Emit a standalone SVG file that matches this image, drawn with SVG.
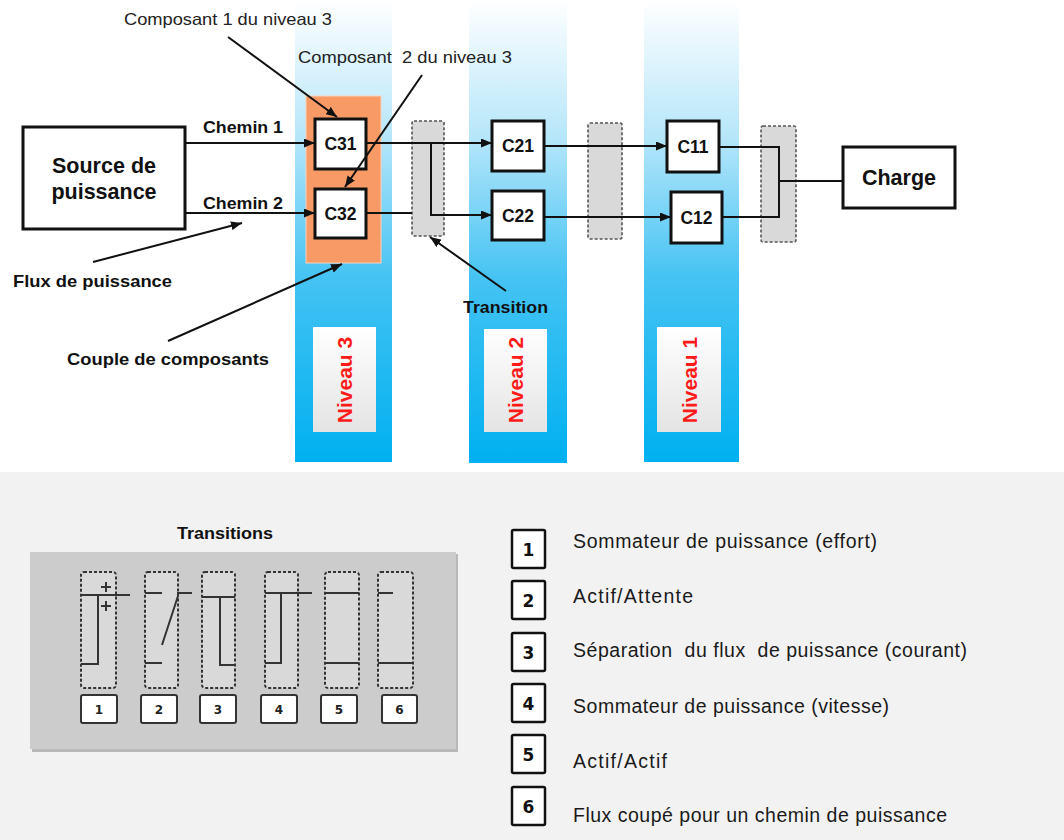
<svg xmlns="http://www.w3.org/2000/svg" width="1064" height="840" viewBox="0 0 1064 840">
<style>
  .box { fill: #ffffff; stroke: #111; stroke-width: 3; }
  .lbl { font-family: "Liberation Sans", Arial, sans-serif; font-weight: bold; fill: #111; }
  .note { font-family: "Liberation Sans", Arial, sans-serif; fill: #222; }
  .conn { fill: none; stroke: #111; stroke-width: 2; }
  .trans { fill: #d9d9d9; stroke: #555; stroke-width: 1.6; stroke-dasharray: 3 2; }
  .niv { font-family: "Liberation Sans", Arial, sans-serif; font-weight: bold; fill: #ff1a1a; font-size: 21px; }
  .icon { fill: #d9d9d9; stroke: #333; stroke-width: 2; stroke-dasharray: 3 2; }
  .iline { fill: none; stroke: #333; stroke-width: 2; }
  .num { fill: #fff; stroke: #333; stroke-width: 2; }
  .numt { font-family: "DejaVu Sans", Verdana, sans-serif; font-weight: bold; font-size: 12px; fill: #222; }
  .lbox { fill: #fff; stroke: #111; stroke-width: 2.5; }
  .lnum { font-family: "DejaVu Sans", Verdana, sans-serif; font-weight: bold; font-size: 17px; fill: #111; }
  .ltext { font-family: "Liberation Sans", Arial, sans-serif; font-size: 19.5px; fill: #1a1a1a; white-space: pre; }
  .pre { white-space: pre; }
</style>
<defs>
  <linearGradient id="band" x1="0" y1="0" x2="0" y2="1">
    <stop offset="0" stop-color="#ffffff"/>
    <stop offset="0.3" stop-color="#b5e6fa"/>
    <stop offset="0.6" stop-color="#45c3f3"/>
    <stop offset="1" stop-color="#00b0f0"/>
  </linearGradient>
  <linearGradient id="lab" x1="0" y1="0" x2="0" y2="1">
    <stop offset="0" stop-color="#ffffff"/>
    <stop offset="1" stop-color="#e4e4e4"/>
  </linearGradient>
  <marker id="ah" markerUnits="userSpaceOnUse" markerWidth="11" markerHeight="9" refX="11" refY="4.5" orient="auto">
    <path d="M0,0 L11,4.5 L0,9 z" fill="#111"/>
  </marker>
</defs>

<rect x="0" y="0" width="1064" height="840" fill="#ffffff"/>

<!-- bottom area -->
<rect x="0" y="472" width="1064" height="368" fill="#f2f2f2"/>

<!-- level bands -->
<g id="niveau3">
  <rect x="295" y="0" width="97" height="462" fill="url(#band)"/>
  <rect x="313" y="327" width="63" height="105" fill="url(#lab)"/>
  <text class="niv" transform="translate(352,380) rotate(-90)" text-anchor="middle">Niveau 3</text>
</g>
<g id="niveau2">
  <rect x="469" y="0" width="98" height="463" fill="url(#band)"/>
  <rect x="484" y="329" width="63" height="103" fill="url(#lab)"/>
  <text class="niv" transform="translate(523,380) rotate(-90)" text-anchor="middle">Niveau 2</text>
</g>
<g id="niveau1">
  <rect x="644" y="0" width="95" height="462" fill="url(#band)"/>
  <rect x="657" y="327" width="64" height="105" fill="url(#lab)"/>
  <text class="niv" transform="translate(697,380) rotate(-90)" text-anchor="middle">Niveau 1</text>
</g>

<!-- couple de composants -->
<g id="couple">
  <rect x="306" y="96" width="75" height="167" fill="#f89a66" stroke="#fbd2bb" stroke-width="1"/>
</g>

<!-- transitions (top) -->
<g id="transition1"><rect class="trans" x="412" y="121" width="32" height="115" rx="2"/></g>
<g id="transition2"><rect class="trans" x="588" y="123" width="34" height="116" rx="2"/></g>
<g id="transition3"><rect class="trans" x="761" y="126" width="35" height="116" rx="2"/></g>

<!-- nodes -->
<g id="source">
  <rect class="box" x="23" y="127" width="162" height="102"/>
  <text class="lbl" x="104" y="173" font-size="21.5" text-anchor="middle">Source de</text>
  <text class="lbl" x="104" y="199" font-size="21.5" text-anchor="middle">puissance</text>
</g>
<g id="C31">
  <rect class="box" x="315" y="119" width="51" height="50"/>
  <text class="lbl" x="340.5" y="150" font-size="17.5" text-anchor="middle">C31</text>
</g>
<g id="C32">
  <rect class="box" x="315" y="189" width="51" height="49"/>
  <text class="lbl" x="340.5" y="220" font-size="17.5" text-anchor="middle">C32</text>
</g>
<g id="C21">
  <rect class="box" x="492" y="121" width="52" height="50"/>
  <text class="lbl" x="518" y="152" font-size="17.5" text-anchor="middle">C21</text>
</g>
<g id="C22">
  <rect class="box" x="492" y="191" width="52" height="49"/>
  <text class="lbl" x="518" y="222" font-size="17.5" text-anchor="middle">C22</text>
</g>
<g id="C11">
  <rect class="box" x="667" y="121" width="52" height="51"/>
  <text class="lbl" x="693" y="153" font-size="17.5" text-anchor="middle">C11</text>
</g>
<g id="C12">
  <rect class="box" x="671" y="192" width="51" height="51"/>
  <text class="lbl" x="696.5" y="224" font-size="17.5" text-anchor="middle">C12</text>
</g>
<g id="charge">
  <rect class="box" x="843" y="147" width="112" height="61"/>
  <text class="lbl" x="899" y="185" font-size="21.5" text-anchor="middle">Charge</text>
</g>

<!-- connectors -->
<g id="connectors">
  <path class="conn" d="M185,143 H315" marker-end="url(#ah)"/>
  <path class="conn" d="M185,213 H315" marker-end="url(#ah)"/>
  <path class="conn" d="M366,143 H492" marker-end="url(#ah)"/>
  <path class="conn" d="M366,213 H412"/>
  <path class="conn" d="M431,143 V215 H492" marker-end="url(#ah)"/>
  <path class="conn" d="M544,146 H667" marker-end="url(#ah)"/>
  <path class="conn" d="M544,217 H671" marker-end="url(#ah)"/>
  <path class="conn" d="M719,147 H779 V217 H722"/>
  <path class="conn" d="M779,181 H843"/>
  <!-- annotation arrows -->
  <path class="conn" d="M228,37 L337,117" marker-end="url(#ah)"/>
  <path class="conn" d="M422,75 L345,187" marker-end="url(#ah)"/>
  <path class="conn" d="M93,262 L242,223" marker-end="url(#ah)"/>
  <path class="conn" d="M168,341 L342,264" marker-end="url(#ah)"/>
  <path class="conn" d="M506,291 L430,237" marker-end="url(#ah)"/>
</g>

<!-- labels -->
<g id="labels">
  <text class="lbl" x="203" y="133" font-size="16" textLength="80" lengthAdjust="spacingAndGlyphs">Chemin 1</text>
  <text class="lbl" x="203" y="209" font-size="16" textLength="80" lengthAdjust="spacingAndGlyphs">Chemin 2</text>
  <text class="note" x="124" y="25" font-size="16.5" textLength="208" lengthAdjust="spacingAndGlyphs">Composant 1 du niveau 3</text>
  <text class="note pre" x="298" y="63" font-size="16.5" textLength="214" lengthAdjust="spacingAndGlyphs">Composant  2 du niveau 3</text>
  <text class="lbl" x="13" y="287" font-size="16.5" textLength="159" lengthAdjust="spacingAndGlyphs">Flux de puissance</text>
  <text class="lbl" x="67" y="365" font-size="16.5" textLength="202" lengthAdjust="spacingAndGlyphs">Couple de composants</text>
  <text class="lbl" x="463" y="313" font-size="16.5" textLength="85" lengthAdjust="spacingAndGlyphs">Transition</text>
</g>

<!-- transitions legend box -->
<g id="transitions-box">
  <text class="lbl" x="177" y="539" font-size="17" textLength="96" lengthAdjust="spacingAndGlyphs">Transitions</text>
  <rect x="32" y="554" width="426" height="198" fill="#b8b8b8"/>
  <rect x="30" y="552" width="426" height="197" fill="#cccccc"/>
</g>
<g id="icon1">
  <rect class="icon" x="81" y="572" width="35" height="116" rx="3"/>
  <path class="iline" d="M81,595 H130 M98,595 V664 H81"/>
  <path class="iline" d="M101,587 H111 M106,582 V592 M101,606 H111 M106,601 V611" stroke-width="1.6"/>
  <rect class="num" x="81" y="695" width="36" height="28" rx="2"/>
  <text class="numt" x="99" y="714" text-anchor="middle">1</text>
</g>
<g id="icon2">
  <rect class="icon" x="145" y="572" width="33" height="116" rx="3"/>
  <path class="iline" d="M145,593 H162 M177,593 H192 M178,596 L162,645 M145,663 H162"/>
  <rect class="num" x="141" y="695" width="36" height="28" rx="2"/>
  <text class="numt" x="159" y="714" text-anchor="middle">2</text>
</g>
<g id="icon3">
  <rect class="icon" x="202" y="572" width="33" height="116" rx="3"/>
  <path class="iline" d="M202,597 H235 M220,597 V665 H234"/>
  <rect class="num" x="200" y="695" width="36" height="28" rx="2"/>
  <text class="numt" x="218" y="714" text-anchor="middle">3</text>
</g>
<g id="icon4">
  <rect class="icon" x="265" y="572" width="33" height="116" rx="3"/>
  <path class="iline" d="M265,593 H312 M281,593 V663 H265"/>
  <rect class="num" x="261" y="695" width="36" height="28" rx="2"/>
  <text class="numt" x="279" y="714" text-anchor="middle">4</text>
</g>
<g id="icon5">
  <rect class="icon" x="325" y="572" width="34" height="116" rx="3"/>
  <path class="iline" d="M325,593 H359 M325,663 H359"/>
  <rect class="num" x="321" y="695" width="36" height="28" rx="2"/>
  <text class="numt" x="339" y="714" text-anchor="middle">5</text>
</g>
<g id="icon6">
  <rect class="icon" x="378" y="572" width="35" height="116" rx="3"/>
  <path class="iline" d="M378,593 H393 M378,663 H413"/>
  <rect class="num" x="382" y="695" width="35" height="28" rx="2"/>
  <text class="numt" x="399.5" y="714" text-anchor="middle">6</text>
</g>

<!-- right legend -->
<g id="legend1">
  <rect class="lbox" x="512" y="530" width="33" height="38" rx="1.5"/>
  <text class="lnum" x="528.5" y="556" text-anchor="middle">1</text>
  <text class="ltext" x="573" y="548" textLength="304" lengthAdjust="spacing">Sommateur de puissance (effort)</text>
</g>
<g id="legend2">
  <rect class="lbox" x="512" y="581" width="33" height="38" rx="1.5"/>
  <text class="lnum" x="528.5" y="607" text-anchor="middle">2</text>
  <text class="ltext" x="573" y="603" textLength="120" lengthAdjust="spacing">Actif/Attente</text>
</g>
<g id="legend3">
  <rect class="lbox" x="512" y="633" width="33" height="38" rx="1.5"/>
  <text class="lnum" x="528.5" y="659" text-anchor="middle">3</text>
  <text class="ltext" x="573" y="657" textLength="394" lengthAdjust="spacing">Séparation  du flux  de puissance (courant)</text>
</g>
<g id="legend4">
  <rect class="lbox" x="512" y="684" width="33" height="38" rx="1.5"/>
  <text class="lnum" x="528.5" y="710" text-anchor="middle">4</text>
  <text class="ltext" x="573" y="713" textLength="316" lengthAdjust="spacing">Sommateur de puissance (vitesse)</text>
</g>
<g id="legend5">
  <rect class="lbox" x="512" y="735" width="33" height="38" rx="1.5"/>
  <text class="lnum" x="528.5" y="761" text-anchor="middle">5</text>
  <text class="ltext" x="573" y="768" textLength="94" lengthAdjust="spacing">Actif/Actif</text>
</g>
<g id="legend6">
  <rect class="lbox" x="512" y="787" width="33" height="38" rx="1.5"/>
  <text class="lnum" x="528.5" y="813" text-anchor="middle">6</text>
  <text class="ltext" x="573" y="822" textLength="374" lengthAdjust="spacing">Flux coupé pour un chemin de puissance</text>
</g>
</svg>
